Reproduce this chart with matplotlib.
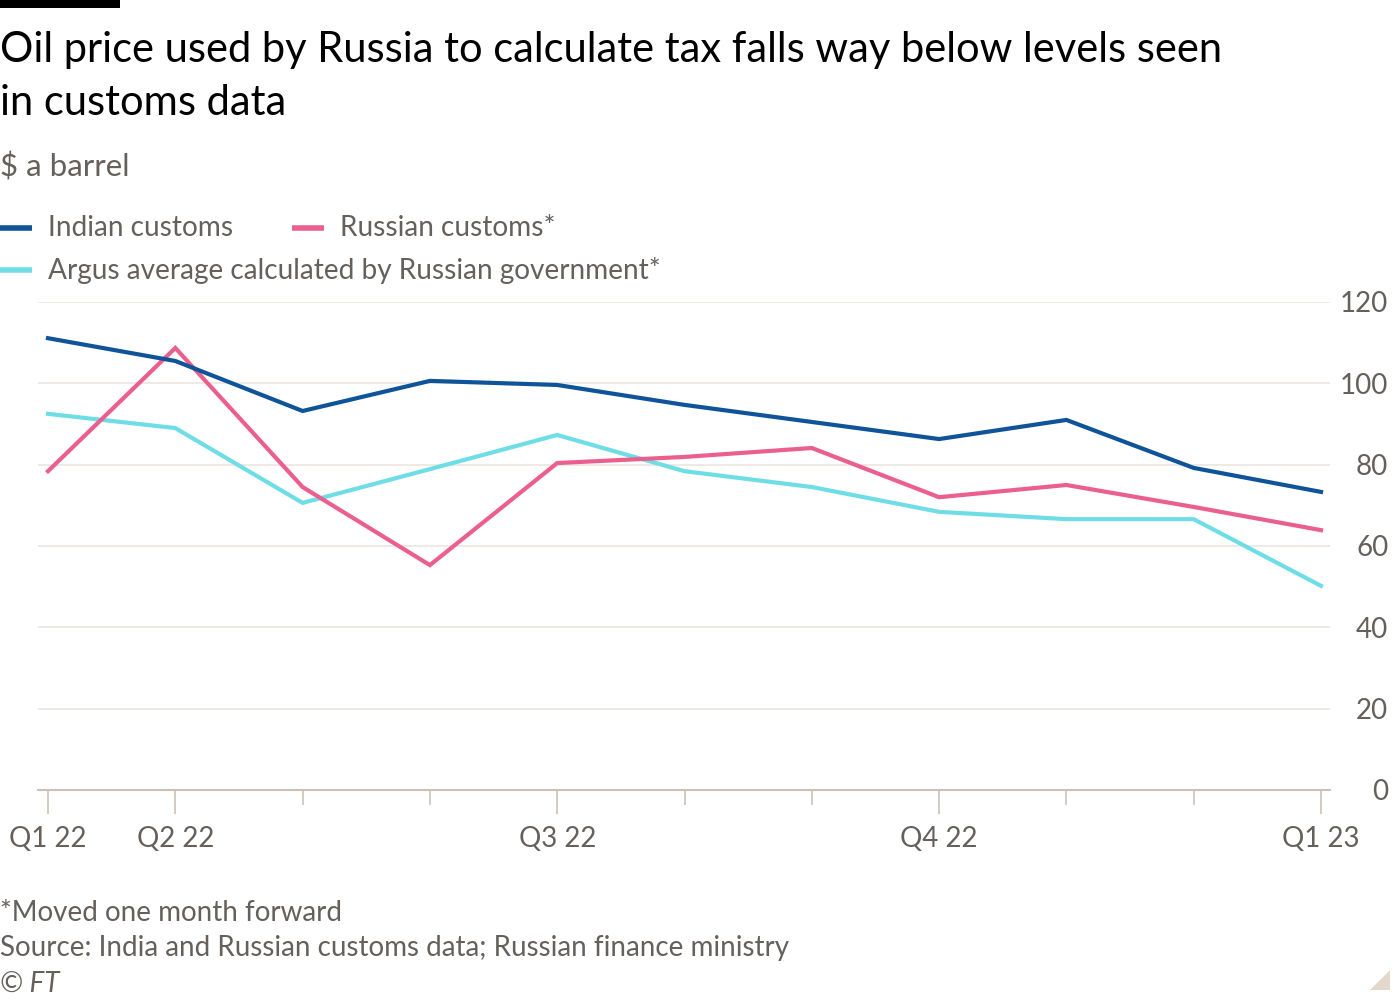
import matplotlib
matplotlib.use("Agg")
import matplotlib.pyplot as plt
from matplotlib.lines import Line2D
from matplotlib.patches import Polygon, Rectangle

months = ["Jan 22", "Feb 22", "Mar 22", "Apr 22", "May 22", "Jun 22",
          "Jul 22", "Aug 22", "Sep 22", "Oct 22", "Nov 22"]
indian = [111.1, 105.5, 93.2, 100.6, 99.6, 94.7, 90.5, 86.3, 91.0, 79.2, 73.3]
russian = [78.4, 108.7, 74.5, 55.3, 80.4, 81.9, 84.1, 72.0, 75.0, 69.6, 63.9]
argus = [92.5, 89.0, 70.6, 78.9, 87.3, 78.4, 74.5, 68.4, 66.6, 66.6, 50.2]
major_pos = [0, 1, 4, 7, 10]
major_labels = ["Q1 22", "Q2 22", "Q3 22", "Q4 22", "Q1 23"]
yticks = [0, 20, 40, 60, 80, 100, 120]

C_IND = "#0f5499"
C_RUS = "#eb5f8f"
C_ARG = "#6fdde6"
GRID = "#ece5de"
TXT = "#66605c"
FONT = ["Lato", "DejaVu Sans"]
plt.rcParams["font.family"] = FONT

W, H = 1400, 1000
fig = plt.figure(figsize=(14, 10), dpi=100)
fig.patch.set_facecolor("white")

def fx(px):
    return px / W

def fy(py):
    return 1 - py / H

ax_l, ax_r = 38, 1330
ax_t, ax_b = 302, 790
ax = fig.add_axes([fx(ax_l), fy(ax_b), fx(ax_r - ax_l), (ax_b - ax_t) / H])
step = 127.3
x0 = 48
ax.set_xlim((ax_l - x0) / step, (ax_r - x0) / step)
ax.set_ylim(0, 120)

xs = list(range(len(months)))
ax.plot(xs, argus, color=C_ARG, lw=3.0, solid_joinstyle="miter", zorder=3)
ax.plot(xs, russian, color=C_RUS, lw=3.0, solid_joinstyle="miter", zorder=4)
ax.plot(xs, indian, color=C_IND, lw=3.0, solid_joinstyle="miter", zorder=5)

for s in ax.spines.values():
    s.set_visible(False)
ax.spines["bottom"].set_visible(True)
ax.spines["bottom"].set_color("#ccc1b7")
ax.spines["bottom"].set_linewidth(1.5)

ax.set_yticks(yticks)
ax.yaxis.tick_right()
ax.tick_params(axis="y", length=0, pad=42, labelsize=20, labelcolor=TXT)
for lab in ax.get_yticklabels():
    lab.set_horizontalalignment("right")
ax.grid(axis="y", color=GRID, lw=1.2)
ax.set_axisbelow(True)

ax.set_xticks(major_pos)
ax.set_xticklabels(major_labels)
ax.set_xticks(xs, minor=True)
ax.tick_params(axis="x", which="major", length=17, width=1.2, color="#ccc1b7",
               labelsize=20, labelcolor=TXT, pad=9)
ax.tick_params(axis="x", which="minor", length=11, width=1.2, color="#ccc1b7")

# top black bar
fig.add_artist(Rectangle((0, fy(8)), fx(120), 8 / H, transform=fig.transFigure,
                         color="black", lw=0))

fig.text(0, fy(50), "Oil price used by Russia to calculate tax falls way below levels seen",
         fontsize=30, color="black", va="center", ha="left")
fig.text(0, fy(103), "in customs data", fontsize=30, color="black", va="center", ha="left")
fig.text(0, fy(167), "$ a barrel", fontsize=22.5, color=TXT, va="center", ha="left")

# legend
def leg(xl, y, color, label):
    fig.add_artist(Line2D([fx(xl), fx(xl + 32)], [fy(y), fy(y)], transform=fig.transFigure,
                          color=color, lw=4, solid_capstyle="butt"))
    fig.text(fx(xl + 48), fy(y), label, fontsize=20.2, color=TXT, va="center", ha="left")

leg(0, 228, C_IND, "Indian customs")
leg(292, 228, C_RUS, "Russian customs*")
leg(0, 270, C_ARG, "Argus average calculated by Russian government*")

fig.text(0, fy(913), "*Moved one month forward", fontsize=20, color=TXT, va="center", ha="left")
fig.text(0, fy(948), "Source: India and Russian customs data; Russian finance ministry",
         fontsize=20, color=TXT, va="center", ha="left")
fig.text(0, fy(984), "© FT", fontsize=20, color=TXT, va="center", ha="left", style="italic")

fig.add_artist(Polygon([[fx(1370), fy(990)], [fx(1390), fy(990)], [fx(1390), fy(970)]],
                       closed=True, transform=fig.transFigure, color="#e4d8cc", lw=0))

fig.savefig("out.png", dpi=100, facecolor="white")
